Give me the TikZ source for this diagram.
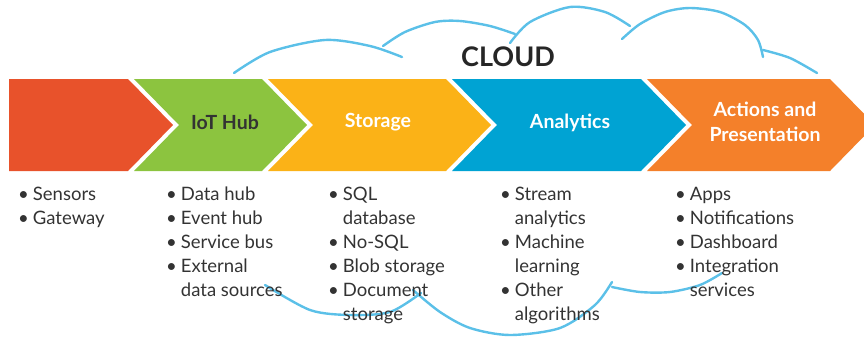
\documentclass[tikz,border=0pt]{standalone}
\usepackage{fontspec}
\setmainfont{Lato}
\usetikzlibrary{positioning}
\definecolor{cred}{HTML}{E8522B}
\definecolor{cgreen}{HTML}{8CC43F}
\definecolor{cyellow}{HTML}{FBB217}
\definecolor{cblue}{HTML}{00A3D3}
\definecolor{corange}{HTML}{F4802A}
\definecolor{csky}{HTML}{5BC0E8}
\definecolor{cdark}{HTML}{333333}
\tikzset{
  every picture/.style={font=\fontsize{18.5}{24}\selectfont},
  chevron/.style={fill=#1, draw=none},
  head/.style={font=\fontsize{19.5}{25}\selectfont\bfseries, text=white, align=center},
  list/.style={anchor=north west, inner sep=0pt, text=cdark, font=\fontsize{18.5}{24}\selectfont},
  cloudline/.style={draw=csky, line width=2.4pt, line cap=round},
}
\newcommand{\itemtab}[1]{\renewcommand{\arraystretch}{1}\begin{tabular}{@{}l@{\hspace{4pt}}l@{}}#1\end{tabular}}

\begin{document}
\begin{tikzpicture}[x=1pt, y=-1pt]
  \useasboundingbox (0,0) rectangle (864,338);
  \begin{scope}
  \clip (0,0) rectangle (864,338);
  % chevrons: top 79, bottom 171, tip depth 45
  \fill[chevron=cred] (9,79) -- (128,79) -- (173,125) -- (128,171) -- (9,171) -- cycle;
  \foreach \l/\r/\c in {134/262/cgreen, 268/446/cyellow, 452/641/cblue, 647/830/corange}
    \fill[chevron=\c] (\l,79) -- (\r,79) -- (\r+45,125) -- (\r,171) -- (\l,171) -- (\l+45,125) -- cycle;
  \end{scope}
  % stage titles
  \node[head, text=cdark] (iot) at (225,122) {IoT Hub};
  \node[head] (storage) at (378,122) {Storage};
  \node[head] (analytics) at (570,123) {Analytics};
  \node[head] (actions) at (765,122) {Actions and\\Presentation};
  \node[font=\fontsize{27}{32}\selectfont\bfseries, text=black!85] (cloud) at (508,57) {CLOUD};
  % cloud outline
  \draw[cloudline] plot[smooth] coordinates {(234,73) (270,52) (325,40) (370,46) (402,57)};
  \draw[cloudline] plot[smooth] coordinates {(383,46) (405,32) (435,22) (460,21) (490,26) (515,34)};
  \draw[cloudline] plot[smooth] coordinates {(510,43) (530,22) (570,7) (605,12) (630,26)};
  \draw[cloudline] plot[smooth] coordinates {(622,39) (640,24) (665,12) (690,8) (720,12) (745,25) (758,40) (763,57)};
  \draw[cloudline] plot[smooth] coordinates {(763,50) (790,58) (817,73)};
  \draw[cloudline] plot[smooth] coordinates {(265,285) (310,310) (350,315) (390,312) (421,293)};
  \draw[cloudline] plot[smooth] coordinates {(413,290) (440,312) (470,328) (510,335) (560,328) (595,305) (612,282)};
  \draw[cloudline] plot[smooth] coordinates {(612,287) (640,292) (670,292) (700,285) (722,273)};
  % item lists
  \node[list] (dev) at (18,183) {\itemtab{• & Sensors\\ • & Gateway}};
  \node[list] (hub) at (166,183) {\itemtab{• & Data hub\\ • & Event hub\\ • & Service bus\\ • & External\\ & data sources}};
  \node[list] (store) at (328,183) {\itemtab{• & SQL\\ & database\\ • & No-SQL\\ • & Blob storage\\ • & Document\\ & storage}};
  \node[list] (anl) at (500,183) {\itemtab{• & Stream\\ & analytics\\ • & Machine\\ & learning\\ • & Other\\ & algorithms}};
  \node[list] (act) at (675,183) {\itemtab{• & Apps\\ • & Notifications\\ • & Dashboard\\ • & Integration\\ & services}};
\end{tikzpicture}
\end{document}
